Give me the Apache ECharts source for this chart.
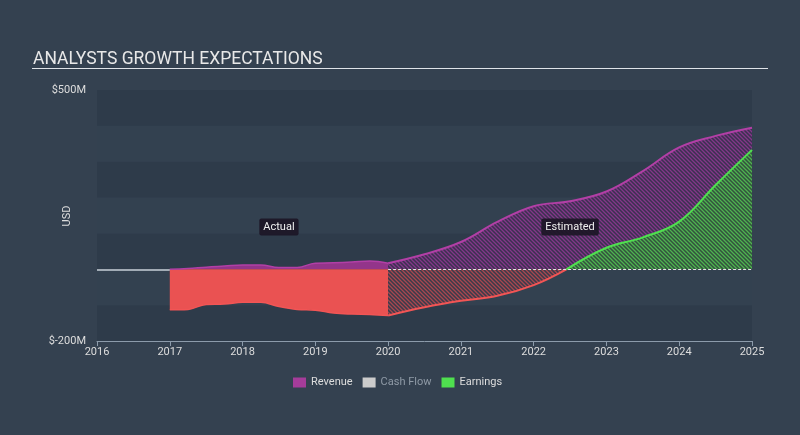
<!DOCTYPE html>
<html>
<head>
<meta charset="utf-8">
<script src="https://cdn.jsdelivr.net/npm/echarts@6/dist/echarts.min.js"></script>
<style>
  html, body { margin: 0; padding: 0; background: #344150; }
  #chart { width: 800px; height: 435px; }
</style>
</head>
<body>
<div id="chart"></div>
<script>
// actual period (quarterly readings)
const actualYears = [2017, 2017.25, 2017.5, 2017.75, 2018, 2018.25, 2018.5, 2018.75, 2019, 2019.25, 2019.5, 2019.75, 2020];
const revenueActual = [0, 2, 6, 9, 12, 12, 5, 5, 17, 18, 20, 23, 17];
const earningsActual = [-113, -112, -98, -97, -92, -92, -104, -112, -114, -122, -125, -126, -129];

// analyst estimates
const estYears = [2020, 2020.5, 2021, 2021.5, 2022, 2022.5, 2023, 2023.5, 2024, 2024.5, 2025];
const revenueEst = [17, 42, 76, 132, 176, 190, 217, 274, 340, 372, 395];
const lossYears = [2020, 2020.5, 2021, 2021.5, 2022, 2022.45];
const lossEst = [-129, -106, -88, -74, -44, 0];
const profitYears = [2022.45, 2023, 2023.5, 2024, 2024.5, 2025];
const profitEst = [0, 60, 89, 133, 235, 333];

const yearTicks = [2016, 2017, 2018, 2019, 2020, 2021, 2022, 2023, 2024, 2025];

function pairs(xs, ys) {
  return xs.map((x, i) => [x, ys[i]]);
}

// little striped tile for the forecast areas
function hatch(bg, fg) {
  const c = document.createElement('canvas');
  c.width = 4; c.height = 4;
  const ctx = c.getContext('2d');
  ctx.fillStyle = bg;
  ctx.fillRect(0, 0, 4, 4);
  ctx.strokeStyle = fg;
  ctx.lineWidth = 1.3;
  ctx.beginPath();
  ctx.moveTo(0, 0); ctx.lineTo(4, 4);
  ctx.moveTo(-1, 3); ctx.lineTo(1, 5);
  ctx.moveTo(3, -1); ctx.lineTo(5, 1);
  ctx.stroke();
  return { image: c, repeat: 'repeat' };
}

const purple = '#a53c9a';
const red = '#ea5252';
const green = '#4fe04f';
const font = 'Roboto, "Noto Sans", sans-serif';

const myChart = echarts.init(document.getElementById('chart'));

const labelStyle = {
  show: true,
  position: 'inside',
  formatter: '{b}',
  color: '#f0f0f0',
  fontSize: 11,
  fontFamily: font,
  backgroundColor: 'rgba(28,22,38,0.92)',
  padding: [3, 4, 3, 4],
  borderRadius: 2
};

const option = {
  backgroundColor: '#344150',
  animation: false,
  textStyle: { fontFamily: font },
  title: {
    text: 'ANALYSTS GROWTH EXPECTATIONS',
    left: 28,
    top: 46,
    textStyle: { color: '#e8e8e8', fontSize: 17.5, fontWeight: 'normal', fontFamily: font }
  },
  graphic: [
    {
      type: 'line',
      shape: { x1: 32, y1: 68.5, x2: 768, y2: 68.5 },
      style: { stroke: '#dfe3e8', lineWidth: 1 }
    },
    {
      // axis title
      type: 'text',
      x: 67,
      y: 216,
      rotation: Math.PI / 2,
      style: {
        text: 'USD',
        fill: '#dddddd',
        fontSize: 11,
        fontFamily: font,
        align: 'center',
        verticalAlign: 'middle'
      }
    }
  ],
  legend: {
    left: 288,
    top: 372,
    icon: 'rect',
    itemWidth: 13,
    itemHeight: 10,
    itemGap: 10,
    textStyle: { color: '#dddddd', fontSize: 11, fontFamily: font },
    data: [
      { name: 'Revenue', itemStyle: { color: purple } },
      { name: 'Cash Flow', itemStyle: { color: '#cccccc' }, textStyle: { color: '#8f9aa6' } },
      { name: 'Earnings', itemStyle: { color: green } }
    ]
  },
  grid: { left: 97, right: 48, top: 90, bottom: 94 },
  xAxis: {
    type: 'value',
    min: 2016,
    max: 2025,
    interval: 1,
    axisLine: { show: true, onZero: false, lineStyle: { color: '#8c9bab', width: 1 } },
    axisTick: { show: true, length: 5, lineStyle: { color: '#8c9bab' } },
    axisLabel: {
      color: '#dddddd',
      fontSize: 11,
      margin: 6,
      formatter: v => yearTicks.includes(v) ? String(v) : ''
    },
    splitLine: { show: false }
  },
  yAxis: {
    type: 'value',
    min: -200,
    max: 500,
    interval: 100,
    axisLine: { show: false },
    axisTick: { show: false },
    axisLabel: {
      color: '#dddddd',
      fontSize: 11,
      margin: 11,
      formatter: v => (v === 500 || v === -200) ? '$' + v + 'M' : ''
    },
    splitLine: { show: false },
    splitArea: { show: true, areaStyle: { color: ['#2e3b4a', '#334150'] } }
  },
  series: [
    {
      name: 'Revenue',
      type: 'line',
      smooth: 0.4,
      showSymbol: false,
      data: pairs(actualYears, revenueActual),
      itemStyle: { color: purple },
      lineStyle: { color: '#b23fa6', width: 1.5 },
      areaStyle: { color: '#93358a', opacity: 1 },
      z: 2
    },
    {
      name: 'Earnings',
      type: 'line',
      smooth: 0.4,
      showSymbol: false,
      data: pairs(actualYears, earningsActual),
      itemStyle: { color: green },
      lineStyle: { color: '#f25555', width: 1.5 },
      areaStyle: { color: red, opacity: 1 },
      z: 2,
      markLine: {
        silent: true,
        symbol: 'none',
        label: { show: false },
        data: [
          [
            { coord: [2016, 0], lineStyle: { color: '#c9d0d8', width: 1.5, type: 'solid' } },
            { coord: [2017, 0] }
          ]
        ]
      },
      markPoint: {
        symbol: 'circle',
        symbolSize: 1,
        itemStyle: { color: 'rgba(0,0,0,0)' },
        label: labelStyle,
        data: [{ name: 'Actual', coord: [2018.5, 118] }]
      }
    },
    {
      name: 'Revenue',
      type: 'line',
      smooth: 0.4,
      showSymbol: false,
      data: pairs(estYears, revenueEst),
      itemStyle: { color: purple },
      lineStyle: { color: '#b23fa6', width: 2 },
      areaStyle: { color: hatch('#3b3150', '#84378a'), opacity: 1 },
      z: 3,
      markPoint: {
        symbol: 'circle',
        symbolSize: 1,
        itemStyle: { color: 'rgba(0,0,0,0)' },
        label: labelStyle,
        data: [{ name: 'Estimated', coord: [2022.5, 118] }]
      }
    },
    {
      name: 'Earnings',
      type: 'line',
      smooth: 0.4,
      showSymbol: false,
      data: pairs(lossYears, lossEst),
      itemStyle: { color: green },
      lineStyle: { color: '#f25555', width: 2 },
      areaStyle: { color: hatch('#3a3b4b', '#a9474f'), opacity: 1 },
      z: 3
    },
    {
      name: 'Earnings',
      type: 'line',
      smooth: 0.4,
      showSymbol: false,
      data: pairs(profitYears, profitEst),
      itemStyle: { color: green },
      lineStyle: { color: green, width: 2 },
      areaStyle: { color: hatch('#33523e', '#4fb350'), opacity: 1 },
      z: 4
    },
    {
      name: 'Cash Flow',
      type: 'line',
      showSymbol: false,
      data: [],
      itemStyle: { color: '#cccccc' },
      z: 5,
      markLine: {
        silent: true,
        symbol: 'none',
        label: { show: false },
        data: [
          [
            { coord: [2020, 0], lineStyle: { color: '#e6e6e6', width: 1, type: [3, 2] } },
            { coord: [2025, 0] }
          ]
        ]
      }
    }
  ]
};

myChart.setOption(option);
</script>
</body>
</html>
